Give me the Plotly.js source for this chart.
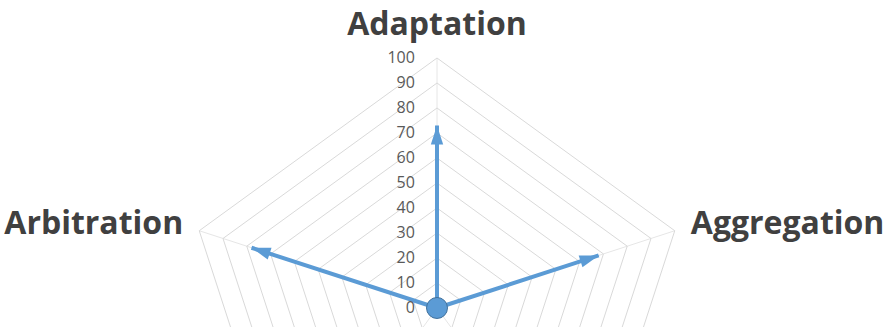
<!DOCTYPE html>
<html><head><meta charset="utf-8">
<script src="https://cdn.plot.ly/plotly-3.0.1.min.js"></script>
<style>html,body{margin:0;padding:0;background:#fff;overflow:hidden;width:893px;height:327px}</style>
</head><body>
<div id="chart" style="width:893px;height:616px"></div>
<script>
const categories = ['Adaptation', 'Aggregation', 'Axis 4', 'Axis 5', 'Arbitration'];
const tickLabels = ['Adaptation', 'Aggregation', '', '', 'Arbitration'];
const arrowCategories = ['Adaptation', 'Aggregation', 'Arbitration'];
const arrowValues = [73, 68, 78];
const arrowAngles = [0, 72, -72];
const originValue = [0.01];
const radialTicks = [0,10,20,30,40,50,60,70,80,90,100];

const blue = '#5b9bd5';
const traces = arrowCategories.map((c, i) => ({
  type: 'scatterpolar',
  r: [0, arrowValues[i]],
  theta: [c, c],
  mode: 'lines',
  line: {color: blue, width: 4},
  hoverinfo: 'skip', showlegend: false, cliponaxis: false
}));
traces.push({
  type: 'scatterpolar', r: arrowValues, theta: arrowCategories, mode: 'markers',
  marker: {symbol: 'arrow', size: 20, angle: arrowAngles, color: blue, line: {width: 0}},
  hoverinfo: 'skip', showlegend: false, cliponaxis: false
});
traces.push({
  type: 'scatterpolar', r: originValue, theta: ['Adaptation'], mode: 'markers',
  marker: {symbol: 'circle', size: 21, color: blue, line: {color: '#41719c', width: 1}},
  hoverinfo: 'skip', showlegend: false, cliponaxis: false
});

const W = 893, H = 616, cx = 437, cy = 308, R = 250;
const layout = {
  width: W, height: H,
  margin: {l: 0, r: 0, t: 0, b: 0},
  paper_bgcolor: '#fff', plot_bgcolor: '#fff',
  showlegend: false,
  polar: {
    domain: {x: [(cx - R) / W, (cx + R) / W], y: [(H - cy - R) / H, (H - cy + R) / H]},
    bgcolor: 'rgba(0,0,0,0)',
    gridshape: 'linear',
    angularaxis: {
      type: 'category', categoryarray: categories, categoryorder: 'array',
      rotation: 90, direction: 'clockwise',
      tickmode: 'array', tickvals: categories, ticktext: tickLabels,
      showline: true, linecolor: '#d9d9d9', linewidth: 1,
      showgrid: true, gridcolor: '#e6e6e6', gridwidth: 1,
      ticks: 'outside', ticklen: 10, tickcolor: 'rgba(0,0,0,0)',
      tickfont: {family: 'Open Sans', size: 32, color: '#404040', weight: 'bold'}
    },
    radialaxis: {
      range: [0, 100], angle: 90, side: 'counterclockwise',
      tickmode: 'array', tickvals: radialTicks,
      showline: false, showgrid: true, gridcolor: '#d9d9d9', gridwidth: 1,
      ticks: 'outside', ticklen: 16, tickcolor: 'rgba(0,0,0,0)',
      tickangle: 90,
      tickfont: {family: 'Open Sans', size: 16, color: '#595959'}
    }
  }
};
Plotly.newPlot('chart', traces, layout, {staticPlot: true});
</script>
</body></html>
